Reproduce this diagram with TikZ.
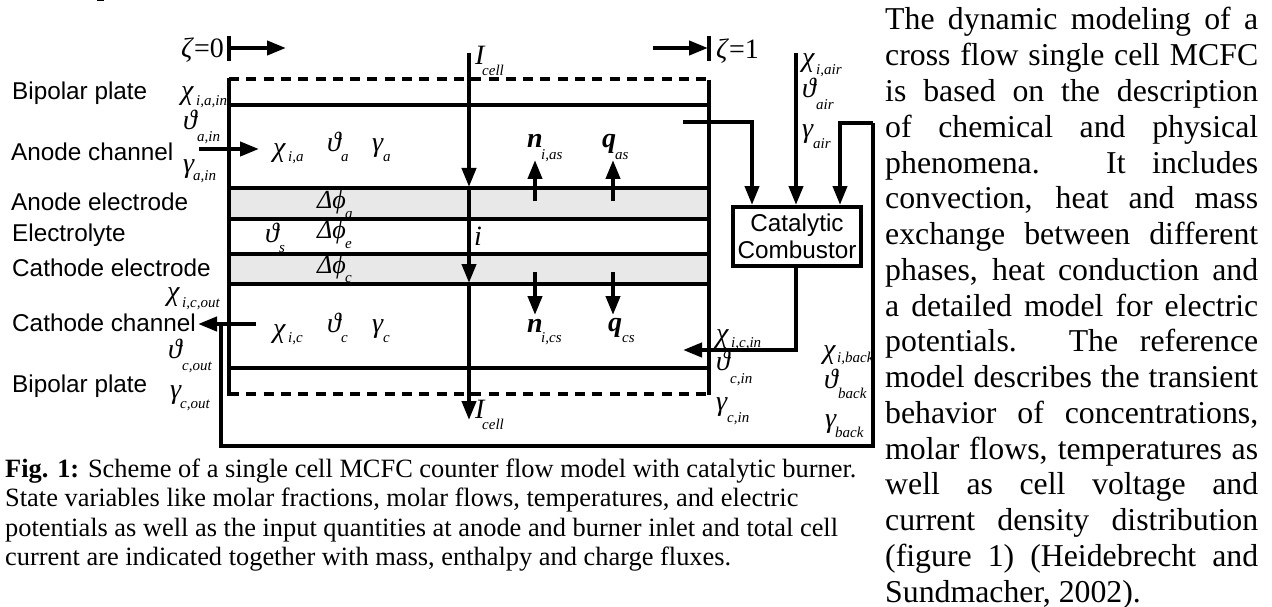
\documentclass[tikz,border=0pt]{standalone}
\usepackage{fontspec}
\setmainfont{Liberation Serif}
\setsansfont{Liberation Sans}
\usetikzlibrary{arrows.meta}
\tikzset{
 thickline/.style={line width=4pt,draw=black},
 flow/.style={line width=4pt,draw=black,-{Triangle[length=19pt,width=14pt]}},
 lab/.style={font=\sffamily\fontsize{24.3}{27}\selectfont,anchor=west,inner sep=0pt},
 var/.style={font=\fontsize{28}{28}\selectfont\itshape,anchor=base west,inner sep=0pt},
 dphi/.style={font=\fontsize{26}{26}\selectfont\itshape,anchor=base west,inner sep=0pt},
 bvar/.style={font=\fontsize{28}{28}\selectfont\bfseries\itshape,anchor=base west,inner sep=0pt},
 ivar/.style={font=\fontsize{28}{28}\selectfont\itshape,anchor=base west,inner sep=0pt},
 sub/.style={font=\fontsize{15}{15}\selectfont\itshape,anchor=base west,inner sep=0pt},
 captxt/.style={font=\fontsize{26.4}{29.3}\selectfont,anchor=base west,inner sep=0pt},
 body/.style={font=\fontsize{31.8}{31.8}\selectfont,anchor=base west,inner sep=0pt},
 zeta/.style={font=\fontsize{28}{28}\selectfont,inner sep=0pt}
}
\newcommand{\VV}[6]{\node[var] at (#1,#2) {#3}; \node[sub] at (#5,#6) {#4};}
\newcommand{\DP}[5]{\node[dphi] at (#1,#2) {#3}; \node[sub] at (#4,#5) {\phantom{}};}
\begin{document}
\begin{tikzpicture}[x=1pt,y=-1pt]
\useasboundingbox (0,0) rectangle (1272,607);
\fill[white] (0,0) rectangle (1272,607);
\fill[black] (97,0) rectangle (104,1.3);
% gray
\fill[black!9] (229,188) rectangle (709,219);
\fill[black!9] (229,254) rectangle (709,284);
% frame
\coordinate (tl) at (229,79); \coordinate (tr) at (709,79);
\coordinate (bl) at (229,394); \coordinate (br) at (709,394);
\draw[thickline] (229,78) -- (229,396);
\draw[thickline] (709,80) -- (709,395);
\draw[thickline,dash pattern=on 10pt off 7.3pt] (tl) -- (tr);
\draw[thickline,dash pattern=on 10pt off 7.3pt] (bl) -- (br);
\foreach \y in {105,188,219,254,284,368} \draw[thickline] (229,\y) -- (709,\y);
% zeta
\draw[line width=4.5pt] (229,36) -- (229,61);
\draw[line width=4.5pt] (709,36) -- (709,61);
\coordinate (z0) at (229,48); \coordinate (z0e) at (286,48);
\coordinate (z1s) at (653,48); \coordinate (z1) at (708,48);
\draw[flow] (z0) -- (z0e);
\draw[flow] (z1s) -- (z1);
\node[zeta,anchor=base east] at (224,58) {\textit{ζ}=0};
\node[zeta,anchor=base west] at (716,59) {\textit{ζ}=1};
% current
\coordinate (ia) at (469,53); \coordinate (ib) at (469,187); \coordinate (ic) at (469,283); \coordinate (id) at (469,420);
\draw[flow] (ia) -- (ib);
\draw[flow] (ib) -- (ic);
\draw[flow] (ic) -- (id);
\node[ivar] at (475,65) {I}; \node[sub] at (482,76) {cell};
\node[ivar] at (475,418) {I}; \node[sub] at (482,429) {cell};
\node[ivar] at (474,245) {i};
% flows
\coordinate (an1) at (199,149); \coordinate (an2) at (259,149);
\draw[flow] (an1) -- (an2);
\coordinate (ca1) at (256,324); \coordinate (ca2) at (198,324);
\draw[flow] (ca1) -- (ca2);
\node[draw=black,line width=4pt,fill=white,minimum width=128pt,minimum height=59pt,inner sep=0pt,align=center,
 font=\sffamily\fontsize{24.3}{27}\selectfont] (cc) at (797,236.5) {Catalytic\\Combustor};
\coordinate (ax) at (683,122); \coordinate (ay) at (752,122);
\draw[flow] (ax) -- (ay) -- (ay|-cc.north);
\coordinate (air) at (796,53);
\draw[flow] (air) -- (air|-cc.north);
\coordinate (b0) at (873,123); \coordinate (b1) at (840,123);
\draw[flow] (b0) -- (b1) -- (b1|-cc.north);
\coordinate (ci) at (796,350); \coordinate (ci2) at (683,350);
\draw[flow] (ci|-cc.south) -- (ci) -- (ci2);
\coordinate (bk1) at (873,446); \coordinate (bk2) at (221,446); \coordinate (bk3) at (221,324);
\draw[thickline,line join=miter] (b0) -- (bk1) -- (bk2) -- (bk3);
% flux arrows
\coordinate (n1) at (535,201); \coordinate (n1e) at (535,160);
\coordinate (q1) at (613,201); \coordinate (q1e) at (613,160);
\coordinate (n2) at (535,272); \coordinate (n2e) at (535,315);
\coordinate (q2) at (613,272); \coordinate (q2e) at (613,315);
\draw[flow] (n1) -- (n1e); \draw[flow] (q1) -- (q1e);
\draw[flow] (n2) -- (n2e); \draw[flow] (q2) -- (q2e);
\node[bvar] at (527,148) {n}; \node[sub] at (541,160) {i,as};
\node[bvar] at (602,148) {q}; \node[sub] at (615,160) {as};
\node[bvar] at (527,332) {n}; \node[sub] at (541,342) {i,cs};
\node[bvar] at (608,331) {q}; \node[sub] at (622,342) {cs};
% left labels
\node[lab] at (12,93) {Bipolar plate};
\node[lab] at (11,152) {Anode channel};
\node[lab] at (11,202) {Anode electrode};
\node[lab] at (12,235) {Electrolyte};
\node[lab] at (12,268) {Cathode electrode};
\node[lab] at (12,323) {Cathode channel};
\node[lab] at (12,386) {Bipolar plate};
% variables
\VV{181}{100}{χ}{i,a,in}{196}{106}
\VV{183}{130}{ϑ}{a,in}{197}{142}
\VV{183}{172}{γ}{a,in}{193}{180}
\VV{273}{157}{χ}{i,a}{288}{162}
\VV{327}{152}{ϑ}{a}{341}{162}
\VV{372}{152}{γ}{a}{383}{162}
\VV{265}{242}{ϑ}{s}{279}{252}
\VV{167}{300}{χ}{i,c,out}{182}{307}
\VV{168}{358}{ϑ}{c,out}{182}{370}
\VV{170}{398}{γ}{c,out}{180}{408}
\VV{273}{337}{χ}{i,c}{288}{342}
\VV{327}{332}{ϑ}{c}{341}{342}
\VV{372}{332}{γ}{c}{383}{342}
\VV{716}{342}{χ}{i,c,in}{731}{347}
\VV{716}{370}{ϑ}{c,in}{730}{383}
\VV{716}{410}{γ}{c,in}{727}{422}
\VV{802}{67}{χ}{i,air}{816}{75}
\VV{802}{98}{ϑ}{air}{816}{110}
\VV{802}{138}{γ}{air}{813}{149}
\VV{823}{358}{χ}{i,back}{837}{362}
\VV{824}{388}{ϑ}{back}{838}{398}
\VV{825}{427}{γ}{back}{835}{437}
\node[dphi] at (317,208) {Δϕ}; \node[sub] at (345,218) {a};
\node[dphi] at (317,238) {Δϕ}; \node[sub] at (345,248) {e};
\node[dphi] at (317,273) {Δϕ}; \node[sub] at (345,282) {c};
% caption
\node[captxt] at (5,477) {\textbf{Fig. 1:} Scheme of a single cell MCFC counter flow model with catalytic burner.};
\node[captxt] at (5,506.5) {State variables like molar fractions, molar flows, temperatures, and electric};
\node[captxt] at (5,536) {potentials as well as the input quantities at anode and burner inlet and total cell};
\node[captxt] at (5,565) {current are indicated together with mass, enthalpy and charge fluxes.};
% body text
\foreach \t [count=\i from 0] in {
 {The dynamic modeling of a},
 {cross flow single cell MCFC},
 {is based on the description},
 {of chemical and physical},
 {phenomena. It includes},
 {convection, heat and mass},
 {exchange between different},
 {phases, heat conduction and},
 {a detailed model for electric},
 {potentials. The reference},
 {model describes the transient},
 {behavior of concentrations,},
 {molar flows, temperatures as},
 {well as cell voltage and},
 {current density distribution},
 {(figure 1) (Heidebrecht and}}
 \node[body] at (885,30+\i*35.75) {\makebox[373pt][s]{\t}};
\node[body] at (885,602) {Sundmacher, 2002).};
\end{tikzpicture}
\end{document}
